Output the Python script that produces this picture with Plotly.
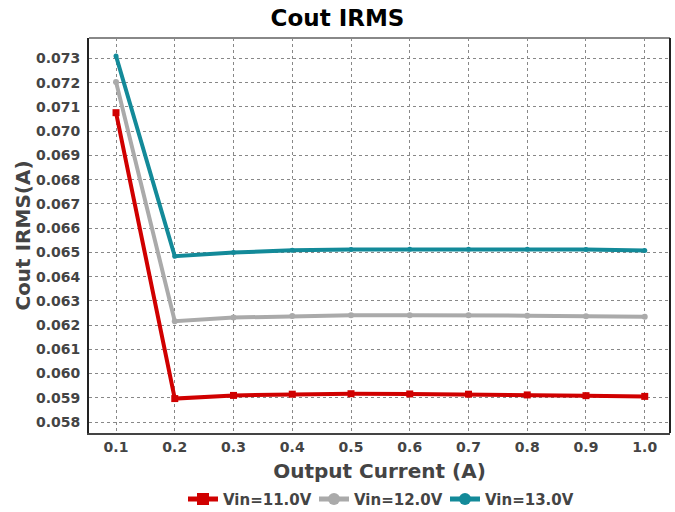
import plotly.graph_objects as go

# Output current sweep (A)
output_current = [0.1, 0.2, 0.3, 0.4, 0.5, 0.6, 0.7, 0.8, 0.9, 1.0]

# Output capacitor RMS current (A) per input voltage
irms_11v = [0.07076, 0.05897, 0.05910, 0.05915, 0.05917, 0.05916, 0.05915, 0.05912, 0.05909, 0.05906]
irms_12v = [0.07203, 0.06216, 0.06231, 0.06238, 0.06241, 0.06241, 0.06241, 0.06239, 0.06236, 0.06234]
irms_13v = [0.07310, 0.06484, 0.06499, 0.06509, 0.06512, 0.06513, 0.06513, 0.06513, 0.06512, 0.06508]

series_names = ["Vin=11.0V", "Vin=12.0V", "Vin=13.0V"]
series_values = [irms_11v, irms_12v, irms_13v]
series_colors = ["#d00000", "#aaaaaa", "#138a99"]
series_symbols = ["square", "circle", "circle"]
series_sizes = [7, 6, 5]

y_ticks = [0.058 + 0.001 * i for i in range(16)]
x_ticks = output_current

fig = go.Figure()
for name, vals, color, sym, size in zip(series_names, series_values, series_colors,
                                         series_symbols, series_sizes):
    fig.add_trace(go.Scatter(
        x=output_current, y=vals, name=name, mode="lines+markers",
        line=dict(color=color, width=4),
        marker=dict(color=color, symbol=sym, size=size),
    ))

axis_font = dict(family="DejaVu Sans", size=14, color="#444444", weight="bold")

fig.update_layout(
    width=675, height=512,
    margin=dict(l=89, r=5, t=38, b=79, autoexpand=False),
    paper_bgcolor="white", plot_bgcolor="white",
    title=dict(text="Cout IRMS", x=0.5, xanchor="center", y=0.965, yanchor="middle",
               font=dict(family="DejaVu Sans", size=23, color="black", weight="bold")),
    font=dict(family="DejaVu Sans", color="#444444"),
    showlegend=True,
    legend=dict(orientation="h", x=0.5, xanchor="center",
                yref="container", y=0.025, yanchor="middle",
                font=dict(family="DejaVu Sans", size=15, color="#444444", weight="bold"),
                entrywidth=86, entrywidthmode="pixels",
                tracegroupgap=0, itemsizing="constant",
                bgcolor="rgba(0,0,0,0)"),
    xaxis=dict(
        range=[0.054, 1.043], tickvals=x_ticks,
        ticktext=[f"{v:.1f}" for v in x_ticks],
        tickfont=axis_font, ticks="", ticklabelstandoff=0,
        showgrid=True, gridcolor="#888888", griddash="dot", gridwidth=1,
        showline=True, linecolor="#444444", linewidth=2, mirror=False,
        zeroline=False,
        title=dict(text="Output Current (A)", standoff=10,
                   font=dict(family="DejaVu Sans", size=20, color="#444444", weight="bold")),
    ),
    yaxis=dict(
        range=[0.05755, 0.07384], tickvals=y_ticks,
        ticktext=[f"{v:.3f}" for v in y_ticks],
        tickfont=axis_font, ticks="", ticklabelstandoff=4,
        showgrid=True, gridcolor="#888888", griddash="dot", gridwidth=1,
        showline=True, linecolor="#222222", linewidth=2, mirror=False,
        zeroline=False,
        title=dict(text="Cout IRMS(A)", standoff=0,
                   font=dict(family="DejaVu Sans", size=20, color="#444444", weight="bold")),
    ),
)

# Frame on the top (light) and right (dark) sides of the plot area
fig.add_shape(type="line", xref="paper", yref="paper", x0=0, x1=1, y0=1, y1=1,
              line=dict(color="#888888", width=2))
fig.add_shape(type="line", xref="paper", yref="paper", x0=1, x1=1, y0=0, y1=1,
              line=dict(color="#222222", width=2))

fig.write_html("out.html")
